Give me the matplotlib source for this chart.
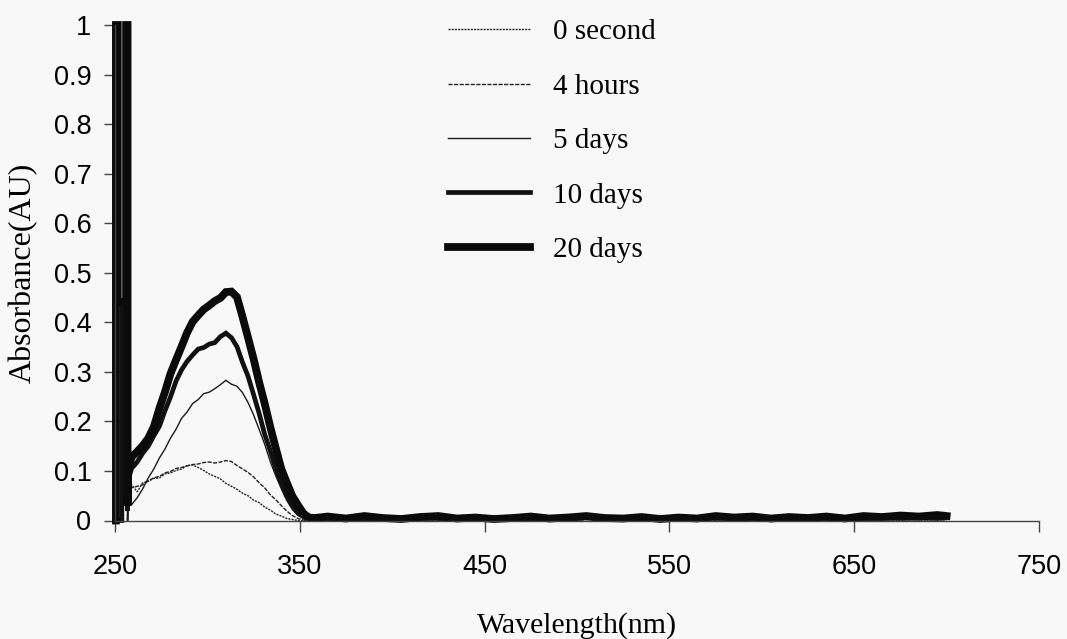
import matplotlib
matplotlib.use("Agg")
import matplotlib.pyplot as plt

# wavelength grid (nm): saturated region, absorption band, flat tail
spike_wl = [250.5, 250.5, 251.5, 251.5, 253.7, 253.7, 256.0, 256.0, 256.8, 256.8]
band_wl = [257, 259, 262, 265, 268, 271, 274, 277, 280, 283, 286, 289, 292,
           295, 298, 301, 304, 307, 310, 313, 316, 319, 322, 325, 328, 331,
           334, 337, 340, 343, 346, 349, 352, 355, 358]
tail_wl = [365, 375, 385, 395, 405, 415, 425, 435, 445, 455, 465, 475, 485,
           495, 505, 515, 525, 535, 545, 555, 565, 575, 585, 595, 605, 615,
           625, 635, 645, 655, 665, 675, 685, 695, 700]

labels = ["0 second", "4 hours", "5 days", "10 days", "20 days"]

# absorbance (AU) for each exposure time
spike_0s = [0.0, 1.0, 1.0, 0.10, 0.10, 0.10, 0.10, 1.0, 1.0, 0.0]
spike_4h = [0.0, 1.0, 1.0, 0.20, 0.20, 0.20, 0.20, 1.0, 1.0, 0.0]
spike_5d = [0.0, 1.0, 1.0, 0.30, 0.30, 0.30, 0.30, 1.0, 1.0, 0.0]
spike_10d = [0.0, 0.0, 0.0, 0.0, 0.0, 0.43, 0.43, 0.43, 0.43, 0.02]
spike_20d = [0.0, 1.0, 1.0, 0.44, 0.44, 0.44, 0.44, 1.0, 1.0, 0.03]

band_0s = [0.05, 0.072, 0.058, 0.076, 0.079, 0.085, 0.086, 0.094, 0.096, 0.101,
           0.104, 0.111, 0.112, 0.107, 0.101, 0.094, 0.089, 0.084, 0.075, 0.069,
           0.063, 0.055, 0.050, 0.041, 0.036, 0.027, 0.021, 0.013, 0.009, 0.004,
           0.002, 0.0, 0.0, 0.0, 0.0]
band_4h = [0.06, 0.066, 0.069, 0.072, 0.080, 0.086, 0.089, 0.096, 0.099, 0.105,
           0.107, 0.110, 0.113, 0.114, 0.117, 0.118, 0.116, 0.118, 0.121, 0.119,
           0.111, 0.104, 0.097, 0.088, 0.076, 0.066, 0.052, 0.042, 0.030, 0.019,
           0.010, 0.004, 0.001, 0.0, 0.0]
band_5d = [0.03, 0.032, 0.046, 0.064, 0.086, 0.104, 0.126, 0.144, 0.166, 0.184,
           0.206, 0.219, 0.236, 0.244, 0.256, 0.259, 0.266, 0.274, 0.283, 0.275,
           0.271, 0.258, 0.238, 0.213, 0.184, 0.154, 0.119, 0.090, 0.064, 0.040,
           0.022, 0.010, 0.004, 0.0, 0.0]
band_10d = [0.08, 0.105, 0.118, 0.136, 0.150, 0.171, 0.190, 0.221, 0.249, 0.281,
            0.304, 0.321, 0.334, 0.346, 0.349, 0.356, 0.359, 0.371, 0.378, 0.369,
            0.351, 0.319, 0.291, 0.254, 0.216, 0.174, 0.141, 0.104, 0.076, 0.049,
            0.031, 0.015, 0.008, 0.004, 0.005]
band_20d = [0.10, 0.128, 0.139, 0.151, 0.166, 0.189, 0.226, 0.259, 0.296, 0.324,
            0.351, 0.379, 0.401, 0.414, 0.426, 0.434, 0.443, 0.449, 0.461, 0.462,
            0.451, 0.411, 0.369, 0.326, 0.279, 0.236, 0.189, 0.146, 0.104, 0.076,
            0.049, 0.031, 0.014, 0.006, 0.005]

tail_thin = [0.002, 0.001, 0.002, 0.001, 0.002, 0.001, 0.002, 0.001, 0.002,
             0.001, 0.002, 0.001, 0.002, 0.001, 0.002, 0.001, 0.002, 0.001,
             0.002, 0.001, 0.002, 0.001, 0.002, 0.001, 0.002, 0.001, 0.002,
             0.001, 0.002, 0.001, 0.002, 0.001, 0.002, 0.001, 0.002]
tail_10d = [0.004, 0.006, 0.003, 0.005, 0.004, 0.006, 0.004, 0.003, 0.005,
            0.004, 0.006, 0.004, 0.005, 0.003, 0.006, 0.004, 0.005, 0.006,
            0.004, 0.003, 0.005, 0.006, 0.004, 0.005, 0.003, 0.006, 0.004,
            0.005, 0.006, 0.004, 0.005, 0.006, 0.005, 0.006, 0.006]
tail_20d = [0.008, 0.004, 0.009, 0.005, 0.003, 0.007, 0.009, 0.004, 0.006,
            0.003, 0.005, 0.008, 0.004, 0.006, 0.009, 0.005, 0.004, 0.007,
            0.003, 0.006, 0.004, 0.009, 0.006, 0.008, 0.004, 0.007, 0.005,
            0.008, 0.004, 0.009, 0.007, 0.010, 0.008, 0.011, 0.009]

series = [
    (spike_0s, band_0s, tail_thin, dict(lw=1.0, ls=(0, (1.5, 0.8)), color="#222222")),
    (spike_4h, band_4h, tail_thin, dict(lw=1.0, ls=(0, (3.0, 1.0)), color="#222222")),
    (spike_5d, band_5d, tail_thin, dict(lw=1.0, ls="-", color="#1a1a1a")),
    (spike_10d, band_10d, tail_10d, dict(lw=3.4, ls="-", color="#111111")),
    (spike_20d, band_20d, tail_20d, dict(lw=5.6, ls="-", color="#0a0a0a")),
]

plt.rcParams["font.family"] = ["Liberation Sans", "DejaVu Sans"]

fig = plt.figure(figsize=(10.67, 6.39), dpi=100)
fig.patch.set_facecolor("#f8f8f8")
ax = fig.add_axes([115 / 1067, 1 - 520.5 / 639, 924 / 1067, 495.5 / 639])
ax.set_facecolor("none")

wl = spike_wl + band_wl + tail_wl
for (sp, bd, tl, style), name in zip(series, labels):
    ax.plot(wl, sp + bd + tl, label=name, clip_on=False,
            solid_joinstyle="miter", **style)

ax.set_xlim(250, 750)
ax.set_ylim(0, 1)
ax.set_xticks([250, 350, 450, 550, 650, 750])
ax.set_yticks([i / 10 for i in range(11)])
ax.set_yticklabels(["0"] + [f"0.{i}" for i in range(1, 10)] + ["1"])
ax.tick_params(axis="both", direction="out", length=8, width=1, color="#444444",
               labelsize=19.5)
ax.tick_params(axis="x", pad=16)
ax.tick_params(axis="y", pad=9)

for side in ("top", "right"):
    ax.spines[side].set_visible(False)
for side in ("left", "bottom"):
    ax.spines[side].set_color("#444444")
    ax.spines[side].set_linewidth(1.0)

serif = ["Liberation Serif", "DejaVu Serif"]
ax.set_xlabel("Wavelength(nm)", family=serif, fontsize=21.5, labelpad=23)
ax.set_ylabel("Absorbance(AU)", family=serif, fontsize=23, labelpad=11)

leg = ax.legend(loc="upper left", bbox_to_anchor=(448 / 1067, 1 - 19 / 639),
                bbox_transform=fig.transFigure, frameon=False,
                prop=dict(family=serif, size=21), handlelength=2.8,
                handletextpad=0.8, labelspacing=0.96, borderpad=0,
                borderaxespad=0)

fig.savefig("out.png", dpi=100, facecolor=fig.get_facecolor())
